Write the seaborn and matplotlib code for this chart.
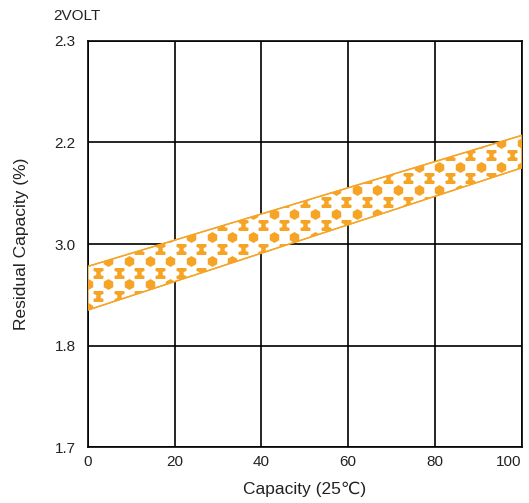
import numpy as np
import pandas as pd
import seaborn as sns
import matplotlib.pyplot as plt
from matplotlib.path import Path
from matplotlib.patches import Polygon

# 数据
x_ticks = [0, 20, 40, 60, 80, 100]
y_pos = [0, 1, 2, 3, 4]
y_labels = ['1.7', '1.8', '3.0', '2.2', '2.3']
band_x = [0, 100]
band_upper = [1.78, 3.07]
band_lower = [1.35, 2.75]

orange = '#F6A425'

sns.set_theme(style='white')
plt.rcParams['font.family'] = ['Liberation Sans', 'DejaVu Sans']

fig = plt.figure(figsize=(5.29, 5.03), dpi=100)
ax = fig.add_axes([0.1664, 0.1113, 0.8198, 0.8072])

# 带状区域
poly_xy = list(zip(band_x, band_upper)) + list(zip(band_x[::-1], band_lower[::-1]))
band = Polygon(poly_xy, closed=True, facecolor='white', edgecolor=orange, lw=1.0, zorder=3)
ax.add_patch(band)

# 填充图案（六边形 + 工字形）
dx = 4.77
dy = 0.116
hx = np.arange(4.68 - 5 * dx, 105, dx)
ix = hx - dx / 2
hex_pts, i_pts = [], []
for k in range(-12, 30):
    yh = 1.835 + k * 2 * dy
    yi = yh + dy
    hex_pts += [(x, yh) for x in hx]
    i_pts += [(x, yi) for x in ix]
hex_df = pd.DataFrame(hex_pts, columns=['x', 'y'])
i_df = pd.DataFrame(i_pts, columns=['x', 'y'])

ibeam = Path([(-1, 1), (1, 1), (1, 0.5), (0.45, 0.3), (0.45, -0.3), (1, -0.5),
              (1, -1), (-1, -1), (-1, -0.5), (-0.45, -0.3), (-0.45, 0.3), (-1, 0.5),
              (-1, 1)], closed=True)

s1 = ax.scatter(hex_df['x'], hex_df['y'], marker='h', s=62, color=orange,
                linewidths=0, zorder=4)
s2 = ax.scatter(i_df['x'], i_df['y'], marker=ibeam, s=52, color=orange,
                linewidths=0, zorder=4)
s1.set_clip_path(band)
s2.set_clip_path(band)

# 边线
edge_df = pd.DataFrame({'x': band_x * 2, 'y': band_upper + band_lower,
                        'edge': ['u', 'u', 'l', 'l']})
sns.lineplot(data=edge_df, x='x', y='y', units='edge', estimator=None,
             color=orange, lw=1.0, ax=ax, zorder=5)

ax.set_xlim(0, 100)
ax.set_ylim(0, 4)
ax.set_xticks(x_ticks)
ax.set_yticks(y_pos)
ax.set_yticklabels(y_labels)
ax.grid(True, color='black', lw=1.2, zorder=1)
ax.set_axisbelow(True)
for sp in ax.spines.values():
    sp.set_color('black')
    sp.set_linewidth(1.2)
ax.tick_params(axis='both', length=0, labelsize=11, colors='#222222')
ax.tick_params(axis='y', pad=9)
ax.tick_params(axis='x', pad=6)
ax.get_xticklabels()[-1].set_ha('right')

ax.set_xlabel('Capacity (25℃)', fontsize=12.5, color='#222222', labelpad=9)
ax.set_ylabel('Residual Capacity (%)', fontsize=12.5, color='#222222', labelpad=18)
fig.text(0.1, 0.968, '2VOLT', fontsize=11, color='#222222', ha='left', va='center')

fig.savefig('out.png', dpi=100)
